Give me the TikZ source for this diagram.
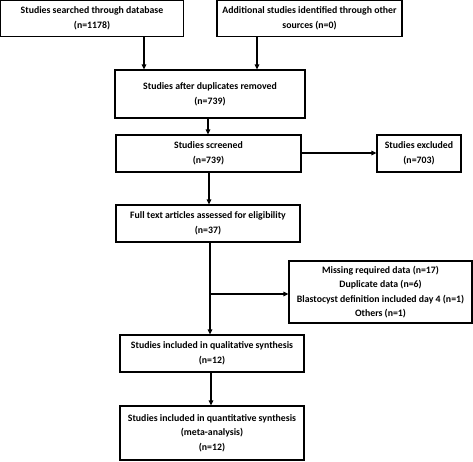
\documentclass[tikz,border=0pt]{standalone}
\usepackage{fontspec}
\setmainfont{Carlito}
\usetikzlibrary{arrows.meta}
\begin{document}
\begin{tikzpicture}[x=1pt,y=-1pt,
  box/.style={draw, line width=1.2pt, inner sep=0pt, align=center,
    font=\fontsize{9.8}{14.6}\selectfont\bfseries},
  arr/.style={line width=1.2pt, -{Triangle[length=5pt,width=4.5pt]}}]
\useasboundingbox (0,0) rectangle (473,461);
\node[box, minimum width=183pt, minimum height=36pt] (b1) at (92,18.5)
  {Studies searched through database\\(n=1178)};
\node[box, minimum width=185pt, minimum height=36pt] (b2) at (309.5,18.5)
  {Additional studies identified through other\\sources (n=0)};
\node[box, minimum width=190pt, minimum height=48pt] (b3) at (210,94)
  {Studies after duplicates removed\\(n=739)};
\node[box, minimum width=185pt, minimum height=37pt] (b4) at (208.5,153.5)
  {Studies screened\\(n=739)};
\node[box, minimum width=84pt, minimum height=37pt] (b5) at (419,153.5)
  {Studies excluded\\(n=703)};
\node[box, minimum width=184pt, minimum height=37pt] (b6) at (208,223.5)
  {Full text articles assessed for eligibility\\(n=37)};
\node[box, minimum width=183pt, minimum height=62pt] (b8) at (380.5,292)
  {Missing required data (n=17)\\Duplicate data (n=6)\\Blastocyst definition included day 4 (n=1)\\Others (n=1)};
\node[box, minimum width=184pt, minimum height=37pt] (b7) at (212,353.5)
  {Studies included in qualitative synthesis\\(n=12)};
\node[box, minimum width=184pt, minimum height=54pt] (b9) at (212,433)
  {Studies included in quantitative synthesis\\(meta-analysis)\\(n=12)};
\coordinate (br) at (210,294);
\draw[arr] (b1.south -| 144,0) -- (b3.north -| 144,0);
\draw[arr] (b2.south -| 257,0) -- (b3.north -| 257,0);
\draw[arr] (b3.south -| 208,0) -- (b4.north -| 208,0);
\draw[arr] (b4.east |- 0,153) -- (b5.west |- 0,153);
\draw[arr] (b4.south -| 209,0) -- (b6.north -| 209,0);
\draw[arr] (b6.south -| 210,0) -- (b7.north -| 210,0);
\draw[arr] (br) -- (br -| b8.west);
\draw[arr] (b7.south -| 211,0) -- (b9.north -| 211,0);
\end{tikzpicture}
\end{document}
